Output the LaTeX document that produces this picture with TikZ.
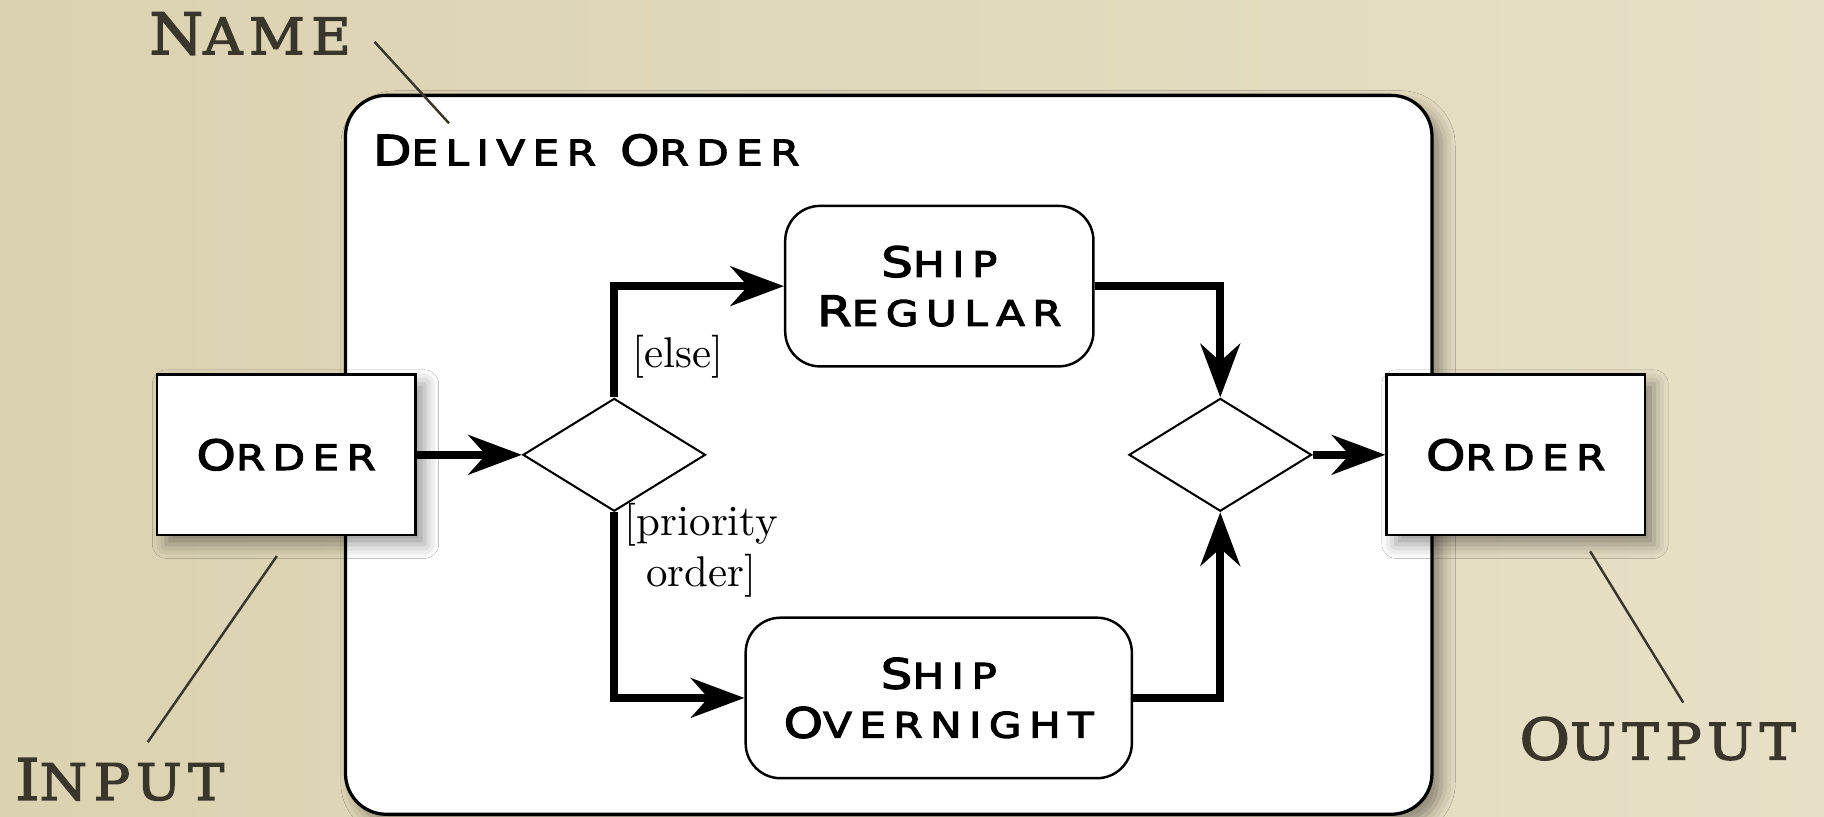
\documentclass[tikz,border=0pt]{standalone}
\usepackage{fontspec}
\usetikzlibrary{shapes.geometric,arrows.meta,shadows.blur}

\newfontfamily\diafont{DejaVu Sans}[LetterSpace=21, FakeStretch=1.2, FakeBold=3]
\newfontfamily\notefont{DejaVu Serif}[LetterSpace=13, FakeStretch=1.08, FakeBold=2.5]
\definecolor{paper}{RGB}{230,224,198}
\definecolor{paperdark}{RGB}{219,210,177}
\definecolor{noteink}{RGB}{58,54,43}
% fake small caps: big first letter, smaller rest
\newcommand\dsc[2]{{\fontsize{10.2}{15}\selectfont#1}{\fontsize{8.6}{15}\selectfont#2}}
\newcommand\nsc[2]{{\fontsize{14}{18}\selectfont#1}{\fontsize{12.3}{18}\selectfont#2}}

\begin{document}
\begin{tikzpicture}[
    x=0.1mm, y=-0.1mm,
    box/.style={draw=black, line width=0.6pt, fill=white, inner sep=0pt, align=center, font=\diafont},
    activitybox/.style={draw=black, line width=0.8pt, fill=white, rounded corners=3.5mm,
        minimum width=93.4mm, minimum height=61.8mm,
        blur shadow={shadow xshift=0.8mm, shadow yshift=-0.8mm, shadow blur radius=1.2mm}},
    actionbox/.style={box, rounded corners=3mm, minimum height=13.8mm},
    objectbox/.style={box, minimum width=22.2mm, minimum height=13.8mm,
        blur shadow={shadow xshift=0.8mm, shadow yshift=-0.8mm, shadow blur radius=1.2mm}},
    choice/.style={diamond, draw=black, line width=0.5pt, fill=white,
        minimum width=15.7mm, minimum height=9.7mm, inner sep=0pt},
    flow/.style={line width=2pt, -{Stealth[length=4.6mm, width=3.4mm, inset=1.5mm]}},
    guard/.style={font=\fontsize{10.5}{12.5}\selectfont, align=center, inner sep=0pt},
    note/.style={font=\notefont, text=noteink, inner sep=0pt},
    leader/.style={draw=noteink, line width=0.6pt},
    ]

% Background
\fill[left color=paperdark, middle color=paper, right color=paper] (0,0) rectangle (1568,702);
\useasboundingbox (0,0) rectangle (1568,702);

% Activity frame
\node[activitybox] (deliver) at (764,391) {};
\node[font=\diafont, anchor=west, inner sep=0pt] (title) at (320,129) {\dsc{D}{ELIVER} \dsc{O}{RDER}};

% Objects
\node[objectbox] (orderin) at (246,391) {\dsc{O}{RDER}};
\node[objectbox] (orderout) at (1303,391) {\dsc{O}{RDER}};

% Actions
\node[actionbox, minimum width=26.5mm] (regular) at (807.5,246) {\dsc{S}{HIP}\\\dsc{R}{EGULAR}};
\node[actionbox, minimum width=33.2mm] (overnight) at (807,600) {\dsc{S}{HIP}\\\dsc{O}{VERNIGHT}};

% Decision and merge
\node[choice] (decide) at (528,391) {};
\node[choice] (merge) at (1049,391) {};

% Flows
\draw[flow] (orderin) -- (decide);
\draw[flow] (decide.north) |- (regular);
\draw[flow] (decide.south) |- (overnight);
\draw[flow] (regular) -| (merge.north);
\draw[flow] (overnight) -| (merge.south);
\draw[flow] (merge) -- (orderout);

% Guards
\node[guard] (elseguard) at (583,307) {[else]};
\node[guard] (prioguard) at (603,473) {[priority\\order]};

% Notes
\node[note] (name) at (215,29) {\nsc{N}{AME}};
\node[note] (input) at (103,670) {\nsc{I}{NPUT}};
\node[note] (output) at (1425,635) {\nsc{O}{UTPUT}};
\coordinate (namehead) at (322,36);
\coordinate (namefoot) at (386,106);
\coordinate (inputhead) at (127,638);
\coordinate (inputfoot) at (238,478);
\coordinate (outputhead) at (1447,604);
\coordinate (outputfoot) at (1367,474);
\draw[leader] (namehead) -- (namefoot);
\draw[leader] (inputhead) -- (inputfoot);
\draw[leader] (outputhead) -- (outputfoot);

\end{tikzpicture}
\end{document}
